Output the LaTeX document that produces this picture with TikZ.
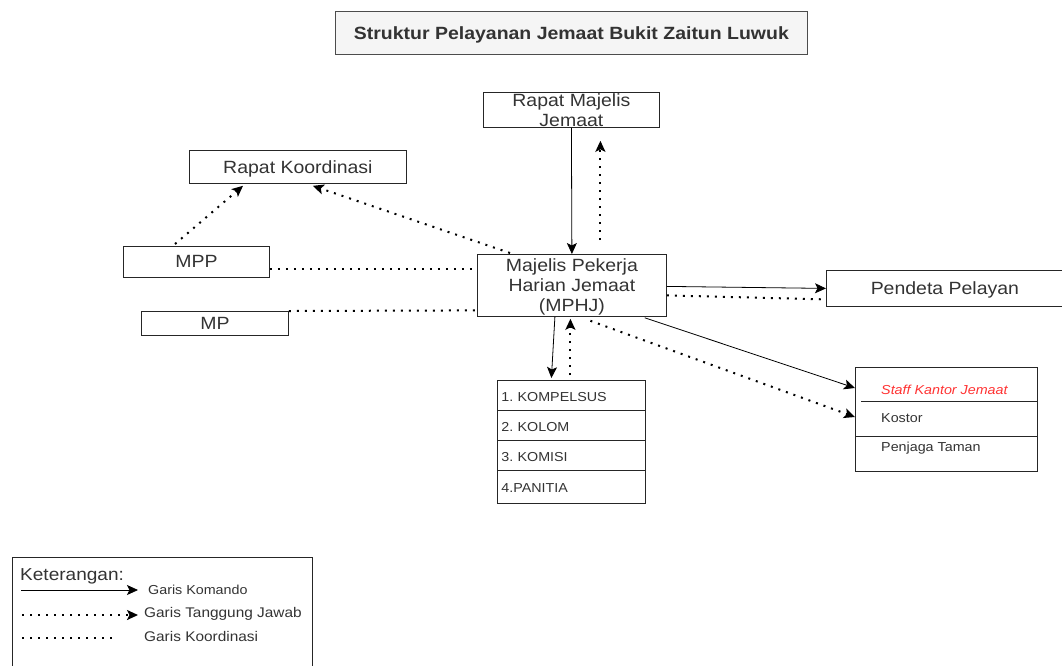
\documentclass[tikz,border=0pt]{standalone}
\usepackage{fontspec}
\setmainfont{Liberation Sans}[FakeStretch=1.1]
\usetikzlibrary{positioning, arrows.meta, calc}
\frenchspacing

\begin{document}
\begin{tikzpicture}[
  x=1pt, y=-1pt,
  >={Stealth[length=11pt, width=10pt, inset=2.5pt]},
  box/.style={
    draw=black!85, line width=0.8pt, anchor=north west,
    inner sep=0pt, align=center, text=black!80, text depth=0pt,
    font=\fontsize{17.7}{20}\selectfont
  },
  rowbox/.style={box, align=left, inner xsep=4pt, text width=140pt,
    text height=12pt, minimum height=30pt, font=\fontsize{13}{15}\selectfont},
  cmd/.style={->, line width=0.8pt, black},
  tjawab/.style={->, line width=2pt, dash pattern=on 2pt off 6pt, black},
  koord/.style={line width=2pt, dash pattern=on 2pt off 6pt, black},
  smalltxt/.style={anchor=west, inner sep=0pt, text=black!80,
    font=\fontsize{13}{15}\selectfont},
]
\useasboundingbox (0,0) rectangle (1062,665);

% =====================================================
% TITLE
% =====================================================
\node[box, fill=gray!8, draw=gray!60!black, minimum width=472pt,
  minimum height=43pt, font=\fontsize{17.7}{20}\bfseries] (title)
  at (335,11) {Struktur Pelayanan Jemaat Bukit Zaitun Luwuk};

% =====================================================
% MAIN BOXES
% =====================================================
\node[box, minimum width=176pt, minimum height=35pt] (rmj) at (483,92)
  {Rapat Majelis\\Jemaat};
\node[box, minimum width=217pt, minimum height=33pt] (rk) at (189,150)
  {Rapat Koordinasi};
\node[box, minimum width=146pt, minimum height=31pt] (mpp) at (123,246)
  {MPP};
\node[box, minimum width=147pt, minimum height=24pt] (mp) at (141,311)
  {MP};
\node[box, minimum width=189pt, minimum height=62pt] (mphj) at (477,254)
  {Majelis Pekerja\\Harian Jemaat\\(MPHJ)};
\node[box, minimum width=237pt, minimum height=36pt] (pp) at (826,270)
  {Pendeta Pelayan};

% list under MPHJ
\node[rowbox] (komp) at (497,380) {1. KOMPELSUS};
\node[rowbox] (kolom) at (497,410) {2. KOLOM};
\node[rowbox] (komisi) at (497,440) {3. KOMISI};
\node[rowbox, minimum height=33pt] (panitia) at (497,470) {4.PANITIA};

% staff box
\node[box, minimum width=182pt, minimum height=104pt] (staff) at (855,367) {};
\draw[black!85, line width=0.8pt]
  ($(staff.north west)+(6,34)$) -- ($(staff.north east)+(0,34)$);
\draw[black!85, line width=0.8pt]
  ($(staff.north west)+(0,69)$) -- ($(staff.north east)+(0,69)$);
\node[smalltxt, text=red!80!white, font=\fontsize{13}{15}\itshape] (skj)
  at ($(staff.north west)+(26,23)$) {Staff Kantor Jemaat};
\node[smalltxt] (kostor) at ($(staff.north west)+(26,51)$) {Kostor};
\node[smalltxt] (taman) at ($(staff.north west)+(26,81)$) {Penjaga Taman};

% =====================================================
% CONNECTORS
% =====================================================
\draw[cmd] (rmj.south) -- (mphj.north);
\draw[tjawab] ($(mphj.north)+(28.5,-14)$) -- ($(rmj.south)+(29,13)$);

\draw[tjawab] ($(mpp.north west)+(52,-2)$) -- ($(rk.south west)+(54,2)$);
\draw[tjawab] ($(mphj.north west)+(33,-1)$) -- ($(rk.south east)+(-94,2)$);

\draw[koord] ($(mpp.east)+(0,7.5)$) -- ($(mphj.west)+(0,-16)$);
\draw[koord] (mp.north east) -- ($(mphj.west)+(0,25)$);

\draw[cmd] ($(mphj.east)+(0,1)$) -- (pp.west);
\draw[koord] ($(mphj.east)+(0,10)$) -- ($(pp.west)+(0,11)$);

\draw[cmd] ($(mphj.south east)+(-22,1)$) -- ($(staff.north west)+(0,21)$);
\draw[tjawab] ($(mphj.south)+(18.5,4)$) -- ($(staff.north west)+(0,50)$);

\draw[cmd] ($(mphj.south)+(-17,0)$) -- ($(komp.north)+(-20,-2)$);
\draw[tjawab] ($(komp.north)+(-1,-5)$) -- ($(mphj.south)+(-1.5,2)$);

% =====================================================
% LEGEND (cut by the lower edge)
% =====================================================
\node[box, minimum width=300pt, minimum height=120pt] (legend) at (12,557) {};
\node[anchor=west, inner sep=0pt, text=black!80,
  font=\fontsize{17.3}{20}\selectfont] (ket) at (20,576) {Keterangan:};

\coordinate (kmdA) at (21,590);
\coordinate (kmdB) at (138,590);
\draw[cmd] (kmdA) -- (kmdB);
\node[smalltxt] (kmdtxt) at (148,590) {Garis Komando};

\coordinate (tjA) at (22,615);
\coordinate (tjB) at (138,615);
\draw[tjawab] (tjA) -- (tjB);
\node[smalltxt, font=\fontsize{14}{16}\selectfont] (tjtxt) at (144,614)
  {Garis Tanggung Jawab};

\coordinate (koA) at (22,638);
\coordinate (koB) at (112,638);
\draw[koord] (koA) -- (koB);
\node[smalltxt, font=\fontsize{14}{16}\selectfont] (kotxt) at (144,636)
  {Garis Koordinasi};

\end{tikzpicture}
\end{document}
